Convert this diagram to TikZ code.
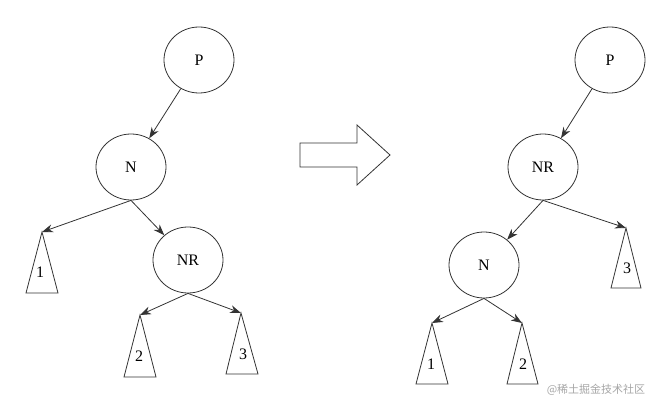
\documentclass[tikz,border=0pt]{standalone}
\usepackage{fontspec}
\setmainfont{Liberation Serif}
\newfontfamily\cjk{Noto Sans CJK SC}
\usetikzlibrary{shapes.geometric,arrows.meta}
\definecolor{ln}{HTML}{333333}
\begin{document}
\begin{tikzpicture}[x=1pt,y=-1pt,
  nd/.style={ellipse,draw=ln,thick,minimum width=70pt,minimum height=66pt,inner sep=0pt,font=\fontsize{16}{16}\selectfont},
  ed/.style={draw=ln,thick,-{Stealth[length=11pt,width=8pt]}},
  tri/.style={draw=ln,thick},
  lb/.style={font=\fontsize{16}{16}\selectfont}]
\useasboundingbox (0,0) rectangle (671,411);
% left tree
\node[nd] (P1) at (199,60) {P};
\node[nd] (N1) at (131,167) {N};
\node[nd] (R1) at (188,260) {NR};
\coordinate (t1) at (42,232);
\coordinate (t2) at (140,315);
\coordinate (t3) at (241,313);
\draw[tri] (t1) -- (26,293) -- (58,293) -- cycle;
\draw[tri] (t2) -- (124,377) -- (156,377) -- cycle;
\draw[tri] (t3) -- (226,374) -- (258,374) -- cycle;
\node[lb] (l1) at (40,272) {1};
\node[lb] (l2) at (139,356) {2};
\node[lb] (l3) at (243,354) {3};
\draw[ed] (P1) -- (N1);
\draw[ed] (N1.south) -- (t1);
\draw[ed] (N1.south) -- (R1);
\draw[ed] (R1.south) -- (t2);
\draw[ed] (R1.south) -- (t3);
% block arrow
\draw[ln,thick] (300,143) -- (357,143) -- (357,125) -- (390,155) -- (357,185) -- (357,167) -- (300,167) -- cycle;
% right tree
\node[nd] (P2) at (610,60) {P};
\node[nd] (R2) at (543,167) {NR};
\node[nd] (N2) at (484,265) {N};
\coordinate (s3) at (626,228);
\coordinate (s1) at (432,323);
\coordinate (s2) at (522,323);
\draw[tri] (s3) -- (611,288) -- (641,288) -- cycle;
\draw[tri] (s1) -- (416,384) -- (448,384) -- cycle;
\draw[tri] (s2) -- (507,384) -- (538,384) -- cycle;
\node[lb] (m3) at (627,268) {3};
\node[lb] (m1) at (431,364) {1};
\node[lb] (m2) at (523,364) {2};
\draw[ed] (P2) -- (R2);
\draw[ed] (R2.south) -- (N2);
\draw[ed] (R2.south) -- (s3);
\draw[ed] (N2.south) -- (s1);
\draw[ed] (N2.south) -- (s2);
\node[text=gray!70,font=\cjk\fontsize{11}{11}\selectfont] (wm) at (596,390) {@稀土掘金技术社区};
\end{tikzpicture}
\end{document}
